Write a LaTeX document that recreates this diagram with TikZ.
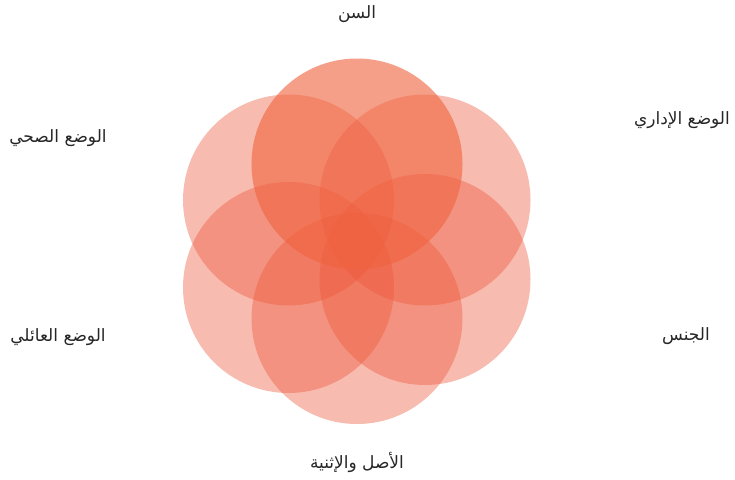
\documentclass[tikz,border=0pt]{standalone}
\usepackage{fontspec}
\newfontfamily\arabicfont[Script=Arabic]{DejaVu Sans}
\TeXXeTstate=1
\definecolor{petalred}{HTML}{ED5538}
\definecolor{petaltop}{HTML}{F0643F}
\tikzset{petal/.style={fill=petalred, fill opacity=0.4},
  toppetal/.style={fill=petaltop, fill opacity=0.62},
  etq/.style={font=\arabicfont\fontsize{17}{19}\selectfont, text=black!85}}

\begin{document}
\begin{tikzpicture}[x=1pt, y=-1pt]
  \useasboundingbox (0,0) rectangle (735,479);
  % petals
  \fill[petal] (288.5,200) circle (105.5);
  \fill[petal] (425,200) circle (105.5);
  \fill[petal] (288.5,287.5) circle (105.5);
  \fill[petal] (425,279.5) circle (105.5);
  \fill[petal] (357,318.5) circle (105.5);
  \fill[toppetal] (357,164) circle (105.5);
  % labels
  \node[etq] (age) at (357,14) {\beginR السن\endR};
  \node[etq] (admin) at (682,120) {\beginR الوضع الإداري\endR};
  \node[etq] (sex) at (686,336) {\beginR الجنس\endR};
  \node[etq] (origin) at (357,462) {\beginR الأصل والإثنية\endR};
  \node[etq] (family) at (58,337) {\beginR الوضع العائلي\endR};
  \node[etq] (health) at (58,138) {\beginR الوضع الصحي\endR};
\end{tikzpicture}
\end{document}
